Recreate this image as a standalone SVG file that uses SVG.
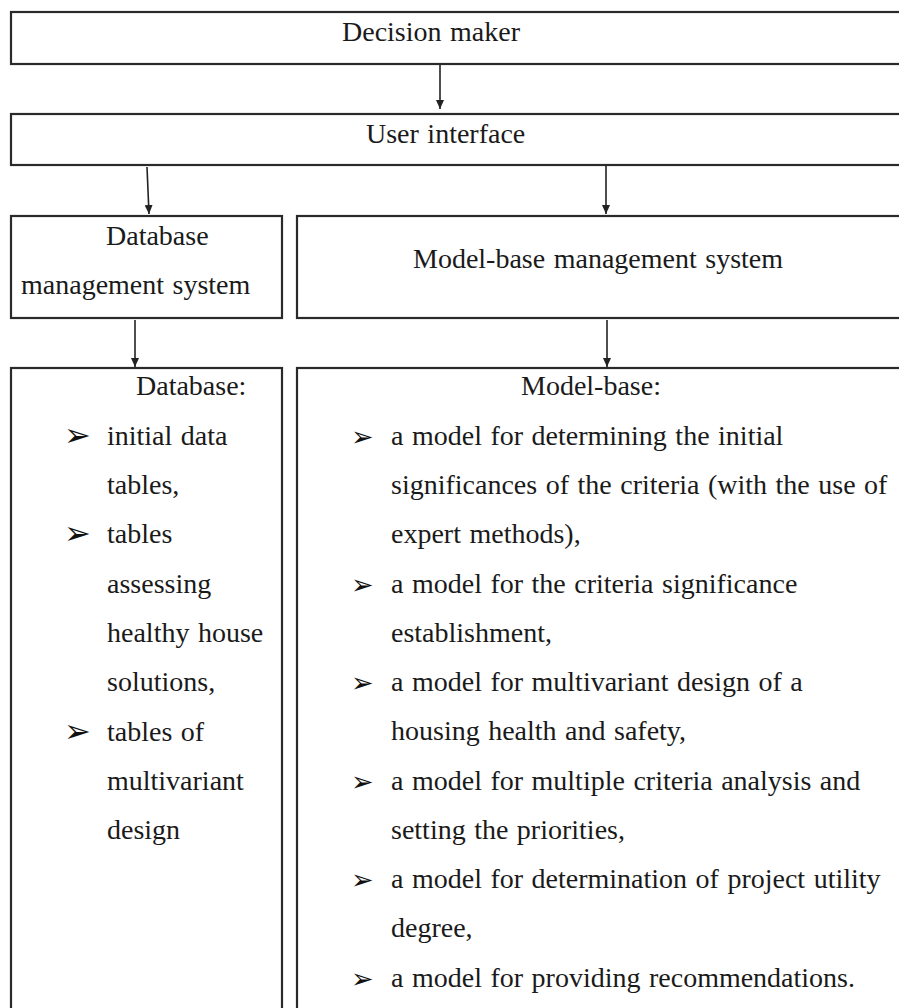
<svg xmlns="http://www.w3.org/2000/svg" width="899" height="1008" viewBox="0 0 899 1008">
<style>
.box{fill:#ffffff;stroke:#2a2a2a;stroke-width:2.2}
.t{font-family:"Liberation Serif","Times New Roman",serif;font-size:28px;fill:#1a1a1a;word-spacing:1.5px}
.b{font-family:"DejaVu Sans",sans-serif;font-size:32px;fill:#111111}
.bs{font-family:"DejaVu Sans",sans-serif;font-size:27px;fill:#111111}
.c{stroke:#222222;stroke-width:1.6;fill:none}
</style>
<defs>
<marker id="arr" markerWidth="9" markerHeight="8" refX="9" refY="4" orient="auto" markerUnits="userSpaceOnUse" viewBox="0 0 9 8">
<path d="M0,0 L9,4 L0,8 z" fill="#222222"/>
</marker>
</defs>
<rect width="899" height="1008" fill="#ffffff"/>
<g id="decision-maker">
<rect class="box" x="11" y="12" width="900" height="52"/>
<text class="t" x="342" y="41">Decision maker</text>
</g>
<g id="user-interface">
<rect class="box" x="11" y="114" width="900" height="51"/>
<text class="t" x="366" y="143">User interface</text>
</g>
<g id="dbms">
<rect class="box" x="11" y="216" width="271" height="102"/>
<text class="t" x="106" y="245">Database</text>
<text class="t" x="21" y="294">management system</text>
</g>
<g id="mbms">
<rect class="box" x="297" y="216" width="614" height="102"/>
<text class="t" x="413" y="268">Model-base management system</text>
</g>
<g id="database">
<rect class="box" x="11" y="368" width="271" height="660"/>
<text class="t" x="136" y="395">Database:</text>
<text class="b" x="64" y="446">➢</text>
<text class="t" x="107" y="445">initial data</text>
<text class="t" x="107" y="494">tables,</text>
<text class="b" x="64" y="544">➢</text>
<text class="t" x="107" y="543">tables</text>
<text class="t" x="107" y="593">assessing</text>
<text class="t" x="107" y="642">healthy house</text>
<text class="t" x="107" y="691">solutions,</text>
<text class="b" x="64" y="742">➢</text>
<text class="t" x="107" y="741">tables of</text>
<text class="t" x="107" y="790">multivariant</text>
<text class="t" x="107" y="839">design</text>
</g>
<g id="model-base">
<rect class="box" x="297" y="368" width="614" height="660"/>
<text class="t" x="521" y="395">Model-base:</text>
<text class="bs" x="351" y="446">➢</text>
<text class="t" x="391" y="445">a model for determining the initial</text>
<text class="t" x="391" y="494">significances of the criteria (with the use of</text>
<text class="t" x="391" y="543">expert methods),</text>
<text class="bs" x="351" y="594">➢</text>
<text class="t" x="391" y="593">a model for the criteria significance</text>
<text class="t" x="391" y="642">establishment,</text>
<text class="bs" x="351" y="692">➢</text>
<text class="t" x="391" y="691">a model for multivariant design of a</text>
<text class="t" x="391" y="740">housing health and safety,</text>
<text class="bs" x="351" y="791">➢</text>
<text class="t" x="391" y="790">a model for multiple criteria analysis and</text>
<text class="t" x="391" y="839">setting the priorities,</text>
<text class="bs" x="351" y="889">➢</text>
<text class="t" x="391" y="888">a model for determination of project utility</text>
<text class="t" x="391" y="937">degree,</text>
<text class="bs" x="351" y="988">➢</text>
<text class="t" x="391" y="987">a model for providing recommendations.</text>
</g>
<g id="connectors">
<line class="c" x1="440" y1="65" x2="440" y2="109" marker-end="url(#arr)"/>
<line class="c" x1="147" y1="167" x2="149" y2="214" marker-end="url(#arr)"/>
<line class="c" x1="606" y1="166" x2="606" y2="214" marker-end="url(#arr)"/>
<line class="c" x1="135" y1="320" x2="135" y2="367" marker-end="url(#arr)"/>
<line class="c" x1="607" y1="320" x2="607" y2="367" marker-end="url(#arr)"/>
</g>
</svg>
